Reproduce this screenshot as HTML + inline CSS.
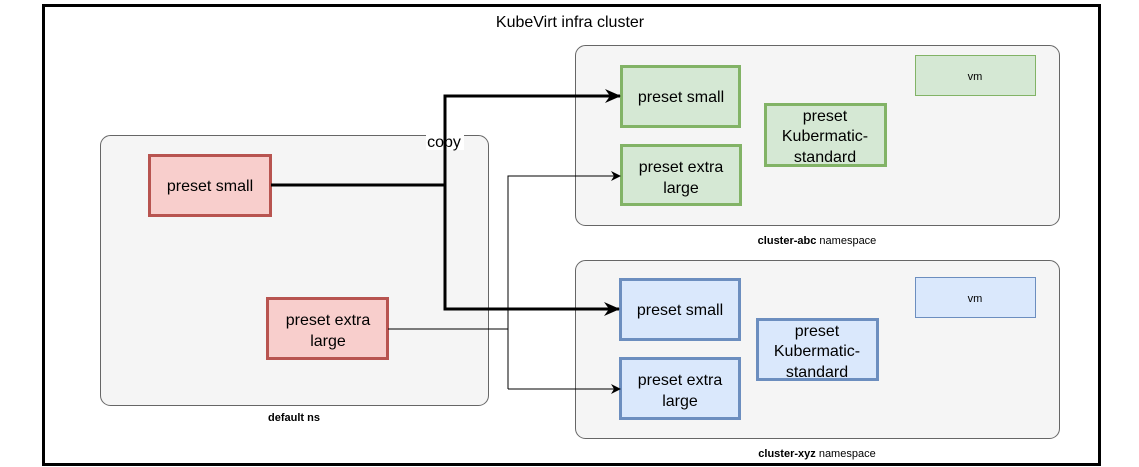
<!DOCTYPE html>
<html><head><meta charset="utf-8"><style>
html,body{margin:0;padding:0;background:#fff;}
svg{display:block;font-family:"Liberation Sans",Arial,sans-serif;}
</style></head><body>
<svg width="1139" height="467" viewBox="0 0 1139 467" xmlns="http://www.w3.org/2000/svg">
<defs>
<marker id="ah" markerWidth="10" markerHeight="10" refX="9" refY="5" orient="auto" markerUnits="userSpaceOnUse"><path d="M0,0 L10,5 L0,10 L3,5 Z" fill="#000"/></marker>
<marker id="ahb" markerWidth="16" markerHeight="14" refX="15" refY="7" orient="auto" markerUnits="userSpaceOnUse"><path d="M0,0 L16,7 L0,14 L5,7 Z" fill="#000"/></marker>
</defs>
<rect x="43.5" y="5.5" width="1056" height="459" fill="#fff" stroke="#000" stroke-width="3"/>
<text x="570" y="27" font-size="16" text-anchor="middle">KubeVirt infra cluster</text>

<rect x="100.5" y="135.5" width="388" height="270" rx="10" fill="#f5f5f5" stroke="#666"/>
<rect x="575.5" y="45.5" width="484" height="180" rx="10" fill="#f5f5f5" stroke="#666"/>
<rect x="575.5" y="260.5" width="484" height="178" rx="10" fill="#f5f5f5" stroke="#666"/>

<text x="294" y="421" font-size="11" font-weight="bold" text-anchor="middle">default ns</text>
<text x="817" y="244" font-size="11" text-anchor="middle"><tspan font-weight="bold">cluster-abc</tspan> namespace</text>
<text x="817" y="457" font-size="11" text-anchor="middle"><tspan font-weight="bold">cluster-xyz</tspan> namespace</text>

<g stroke-width="3">
<rect x="149.5" y="155.5" width="121" height="60" fill="#f8cecc" stroke="#b85450"/>
<rect x="267.5" y="298.5" width="120" height="60" fill="#f8cecc" stroke="#b85450"/>
<rect x="621.5" y="66.5" width="118" height="60" fill="#d5e8d4" stroke="#82b366"/>
<rect x="621.5" y="145.5" width="119" height="59" fill="#d5e8d4" stroke="#82b366"/>
<rect x="765.5" y="104.5" width="120" height="61" fill="#d5e8d4" stroke="#82b366"/>
<rect x="620.5" y="279.5" width="119" height="60" fill="#dae8fc" stroke="#6c8ebf"/>
<rect x="620.5" y="358.5" width="119" height="60" fill="#dae8fc" stroke="#6c8ebf"/>
<rect x="757.5" y="319.5" width="120" height="60" fill="#dae8fc" stroke="#6c8ebf"/>
</g>
<rect x="915.5" y="55.5" width="120" height="40" fill="#d5e8d4" stroke="#82b366"/>
<rect x="915.5" y="277.5" width="120" height="40" fill="#dae8fc" stroke="#6c8ebf"/>

<g font-size="16" text-anchor="middle">
<text x="210" y="191">preset small</text>
<text x="328" y="325">preset extra</text><text x="328" y="346">large</text>
<text x="681" y="102">preset small</text>
<text x="681" y="172">preset extra</text><text x="681" y="193">large</text>
<text x="825" y="121">preset</text><text x="825" y="141">Kubermatic-</text><text x="825" y="162">standard</text>
<text x="680" y="315">preset small</text>
<text x="680" y="385">preset extra</text><text x="680" y="406">large</text>
<text x="817" y="336">preset</text><text x="817" y="356">Kubermatic-</text><text x="817" y="377">standard</text>
</g>
<g font-size="11" text-anchor="middle">
<text x="975" y="80">vm</text>
<text x="975" y="302">vm</text>
</g>

<polyline points="388,329 508,329 508,176 620,176" fill="none" stroke="#000" stroke-width="1" marker-end="url(#ah)"/>
<line x1="508" y1="329" x2="508" y2="389" stroke="#000" stroke-width="1"/>
<line x1="508" y1="389" x2="620" y2="389" stroke="#000" stroke-width="1" marker-end="url(#ah)"/>

<polyline points="271,185 445,185 445,96 620,96" fill="none" stroke="#000" stroke-width="3" marker-end="url(#ahb)"/>
<polyline points="445,185 445,309 619,309" fill="none" stroke="#000" stroke-width="3" marker-end="url(#ahb)"/>
<rect x="426" y="133" width="38" height="17" fill="#fff"/>
<line x1="445" y1="133" x2="445" y2="150" stroke="#000" stroke-width="3"/>
<text x="444" y="147" font-size="16" text-anchor="middle">copy</text>
</svg>
</body></html>
